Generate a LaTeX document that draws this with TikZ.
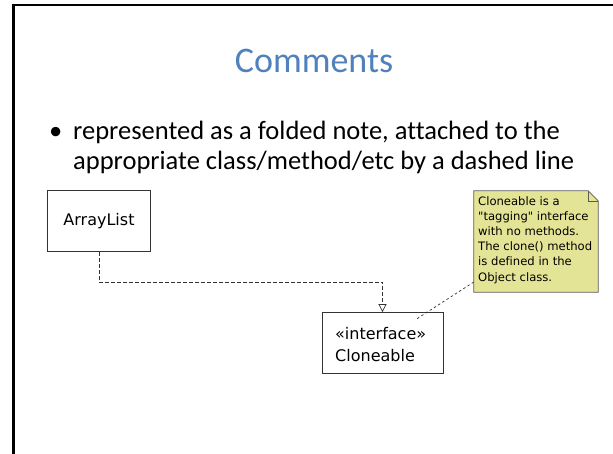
\documentclass[tikz,border=0pt]{standalone}
\usepackage{fontspec}
\setmainfont{Carlito}[Ligatures={NoCommon}]
\newfontfamily\umlfont{DejaVu Sans}[Ligatures={NoCommon}]
\usetikzlibrary{arrows.meta,calc}
\definecolor{titleblue}{RGB}{79,129,189}
\definecolor{notefill}{RGB}{228,228,150}
\definecolor{noteline}{RGB}{90,90,90}
\begin{document}
\begin{tikzpicture}[x=1pt,y=-1pt,
  classbox/.style={draw=black!80,line width=0.8pt,fill=white,inner sep=0pt},
  umltext/.style={font=\umlfont\fontsize{16}{19}\selectfont},
  notetext/.style={font=\umlfont\fontsize{11.6}{15.2}\selectfont,align=left,inner sep=0pt,anchor=north west},
  dep/.style={draw=black!80,line width=0.7pt,dash pattern=on 4pt off 2pt,-{Triangle[open,length=8pt,width=8pt]}},
  notelink/.style={draw=black!80,line width=0.7pt,dash pattern=on 2.5pt off 2.5pt},
  bodytext/.style={font=\fontsize{26.5}{30}\selectfont,inner sep=0pt,anchor=base west}]
\useasboundingbox (0,0) rectangle (613,453);
\fill[white] (0,0) rectangle (613,453);
% slide frame
\draw[line width=2.6pt,black] (13.5,460) -- (13.5,5) -- (620,5);
% title
\node[font=\fontsize{36}{40}\selectfont,text=titleblue,anchor=base,inner sep=0pt] (title) at (314,72) {Comments};
% bullet
\node[bodytext] (bul) at (49,139) {\textbullet};
\node[bodytext] (l1) at (73,139) {represented as a folded note, attached to the};
\node[bodytext] (l2) at (73,169) {appropriate class/method/etc by a dashed line};
% classes
\node[classbox,minimum width=103pt,minimum height=61pt,umltext] (al) at (99,221) {ArrayList};
\node[classbox,minimum width=121pt,minimum height=61pt] (ci) at (382.5,343) {};
\node[umltext,anchor=base west,inner sep=0pt] (st) at (335,339) {«interface»};
\node[umltext,anchor=base west,inner sep=0pt] (cn) at (335,361) {Cloneable};
% note
\node[minimum width=124pt,minimum height=101pt,inner sep=0pt] (note) at (536,241.5) {};
\fill[notefill] (note.north west) -- ($(note.north east)+(-10,0)$) -- ($(note.north east)+(0,10)$) -- (note.south east) -- (note.south west) -- cycle;
\draw[noteline,line width=0.8pt] (note.north west) -- ($(note.north east)+(-10,0)$) -- ($(note.north east)+(0,10)$) -- (note.south east) -- (note.south west) -- cycle;
\draw[noteline,line width=0.6pt] ($(note.north east)+(-10,0)$) -- ($(note.north east)+(-10,10)$) -- ($(note.north east)+(0,10)$);
\node[notetext] (nt) at (478,196) {Cloneable is a\\"tagging" interface\\with no methods.\\The clone() method\\is defined in the\\Object class.};
% connectors
\draw[dep] (al.south) -- ++(0,30) -| (ci.north);
\coordinate (nlend) at (415,320);
\coordinate (nlstart) at (note.west |- 0,282);
\draw[notelink] (nlstart) -- (nlend);
\end{tikzpicture}
\end{document}
